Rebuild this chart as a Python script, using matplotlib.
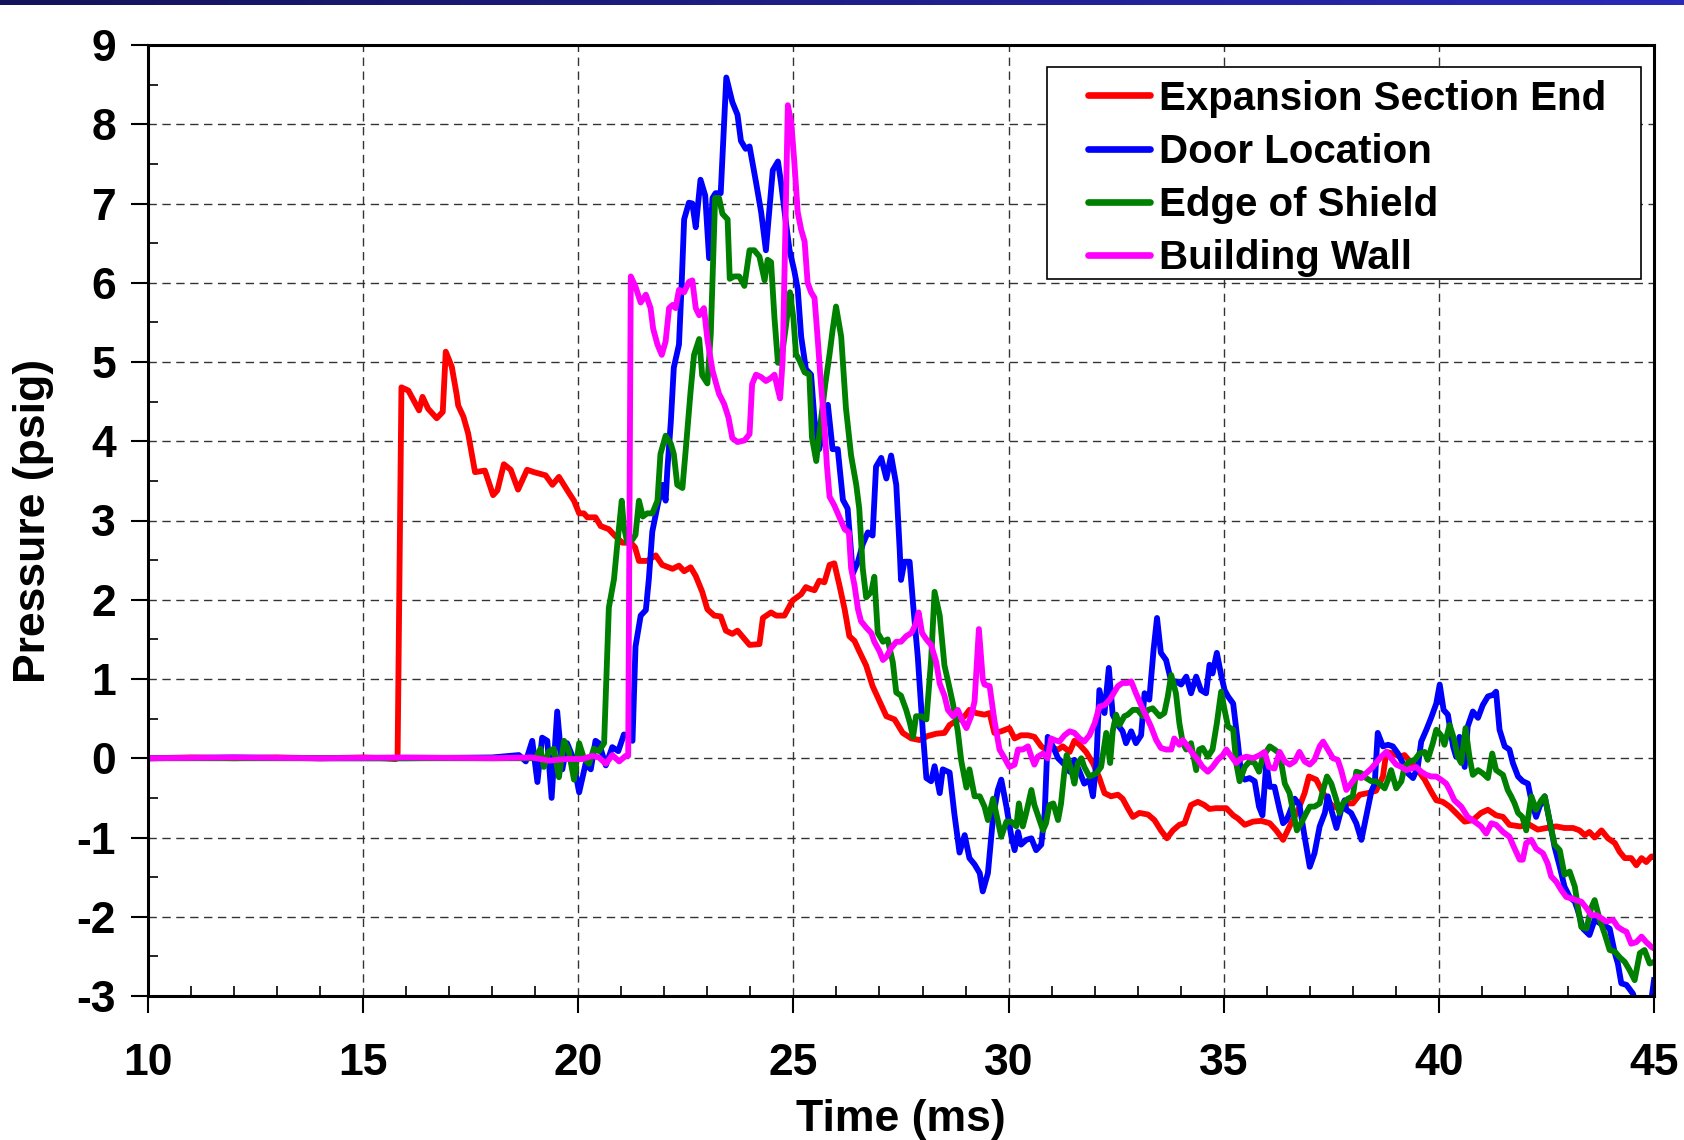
import numpy as np
import matplotlib
matplotlib.use('Agg')
import matplotlib.pyplot as plt
from matplotlib.patches import Rectangle
from matplotlib.ticker import MultipleLocator

# ---- data ----
exp_t = [10.0, 11.0, 12.0, 13.0, 14.0, 15.0, 15.5, 15.75, 15.80, 15.89, 16.05, 16.30, 16.38, 16.51,
         16.71, 16.85, 16.92, 17.06, 17.17, 17.21, 17.33, 17.44, 17.60, 17.83, 18.02, 18.12, 18.27,
         18.43, 18.60, 18.81, 18.97, 19.24, 19.40, 19.55, 19.78, 19.90, 20.02, 20.13, 20.21, 20.40,
         20.52, 20.71, 20.83, 21.02, 21.22, 21.32, 21.41, 21.60, 21.80, 21.95, 22.19, 22.34, 22.46,
         22.61, 22.73, 22.88, 23.00, 23.16, 23.31, 23.43, 23.58, 23.70, 23.98, 24.21, 24.29, 24.48,
         24.60, 24.79, 24.98, 25.18, 25.29, 25.37, 25.49, 25.60, 25.72, 25.84, 25.95, 26.07, 26.19,
         26.30, 26.42, 26.53, 26.69, 26.84, 27.00, 27.16, 27.35, 27.54, 27.74, 27.93, 28.12, 28.32,
         28.51, 28.63, 28.78, 28.98, 29.09, 29.25, 29.44, 29.56, 29.67, 29.83, 30.02, 30.14, 30.29,
         30.45, 30.60, 30.76, 30.87, 30.99, 31.15, 31.26, 31.42, 31.53, 31.65, 31.80, 31.96, 32.11,
         32.23, 32.38, 32.54, 32.65, 32.77, 32.89, 33.04, 33.24, 33.39, 33.54, 33.68, 33.82, 33.97,
         34.09, 34.24, 34.40, 34.55, 34.67, 34.82, 35.06, 35.22, 35.33, 35.49, 35.68, 35.87, 36.07,
         36.22, 36.38, 36.53, 36.73, 36.88, 36.98, 37.15, 37.31, 37.50, 37.65, 37.85, 38.00, 38.16,
         38.35, 38.54, 38.70, 38.78, 38.93, 39.09, 39.20, 39.36, 39.51, 39.67, 39.82, 39.94, 40.09,
         40.25, 40.36, 40.60, 40.79, 40.98, 41.14, 41.33, 41.49, 41.64, 41.88, 42.11, 42.30, 42.50,
         42.73, 42.92, 43.12, 43.27, 43.39, 43.50, 43.62, 43.78, 43.93, 44.09, 44.20, 44.32, 44.47,
         44.59, 44.71, 44.82, 44.94, 45.0]
exp_p = [0.0, 0.01, 0.0, 0.01, 0.0, 0.01, 0.0, -0.01, 0.0, 4.68, 4.64, 4.39, 4.56, 4.41,
         4.29, 4.37, 5.13, 4.94, 4.60, 4.45, 4.31, 4.10, 3.61, 3.63, 3.32, 3.38, 3.71,
         3.64, 3.39, 3.64, 3.61, 3.57, 3.45, 3.55, 3.35, 3.25, 3.09, 3.09, 3.04, 3.04,
         2.93, 2.89, 2.82, 2.72, 2.72, 2.66, 2.49, 2.49, 2.56, 2.44, 2.39, 2.43, 2.36,
         2.41, 2.30, 2.10, 1.88, 1.80, 1.79, 1.61, 1.57, 1.61, 1.43, 1.44, 1.77, 1.84,
         1.80, 1.80, 1.99, 2.07, 2.16, 2.14, 2.12, 2.24, 2.22, 2.44, 2.46, 2.18, 1.88,
         1.54, 1.48, 1.35, 1.17, 0.91, 0.72, 0.53, 0.49, 0.32, 0.25, 0.23, 0.28, 0.31,
         0.32, 0.42, 0.47, 0.53, 0.61, 0.57, 0.55, 0.57, 0.32, 0.34, 0.38, 0.25, 0.29,
         0.29, 0.27, 0.15, 0.11, 0.13, 0.11, 0.15, 0.08, 0.22, 0.17, 0.08, -0.06, -0.25,
         -0.44, -0.48, -0.46, -0.51, -0.63, -0.74, -0.69, -0.71, -0.78, -0.91, -1.01, -0.91, -0.84,
         -0.82, -0.59, -0.55, -0.59, -0.64, -0.63, -0.63, -0.72, -0.76, -0.84, -0.80, -0.79, -0.82,
         -0.91, -1.03, -0.86, -0.65, -0.44, -0.23, -0.27, -0.44, -0.59, -0.63, -0.57, -0.57, -0.46,
         -0.44, -0.41, -0.23, 0.08, 0.06, 0.02, 0.04, -0.06, -0.15, -0.27, -0.42, -0.53, -0.55,
         -0.61, -0.67, -0.80, -0.78, -0.69, -0.65, -0.72, -0.74, -0.84, -0.86, -0.84, -0.90, -0.88,
         -0.86, -0.88, -0.88, -0.91, -0.97, -0.93, -1.00, -0.91, -1.01, -1.07, -1.18, -1.26, -1.26,
         -1.35, -1.26, -1.31, -1.24, -1.24]

door_t = [10.0, 12.0, 14.0, 16.0, 18.0, 18.62, 18.78, 18.93, 19.05, 19.16, 19.28, 19.38, 19.51,
          19.63, 19.74, 19.86, 20.02, 20.17, 20.29, 20.40, 20.48, 20.64, 20.79, 20.93, 21.06, 21.14,
          21.26, 21.33, 21.45, 21.57, 21.64, 21.72, 21.84, 21.95, 22.03, 22.07, 22.15, 22.22, 22.34,
          22.40, 22.46, 22.57, 22.65, 22.73, 22.84, 22.95, 23.04, 23.12, 23.19, 23.31, 23.44, 23.58,
          23.70, 23.78, 23.89, 23.98, 24.13, 24.25, 24.36, 24.52, 24.64, 24.71, 24.83, 24.91, 25.02,
          25.10, 25.18, 25.29, 25.41, 25.49, 25.60, 25.68, 25.80, 25.91, 26.03, 26.15, 26.26, 26.38,
          26.50, 26.61, 26.73, 26.84, 26.92, 27.04, 27.16, 27.27, 27.39, 27.47, 27.50, 27.58, 27.70,
          27.78, 27.89, 28.01, 28.09, 28.20, 28.28, 28.40, 28.47, 28.63, 28.74, 28.86, 28.98, 29.09,
          29.21, 29.33, 29.40, 29.52, 29.64, 29.75, 29.83, 29.95, 30.06, 30.14, 30.22, 30.29, 30.41,
          30.53, 30.64, 30.76, 30.84, 30.91, 31.03, 31.15, 31.30, 31.42, 31.53, 31.65, 31.76, 31.88,
          31.96, 32.04, 32.11, 32.23, 32.33, 32.42, 32.54, 32.65, 32.73, 32.85, 32.96, 33.08, 33.16,
          33.27, 33.37, 33.45, 33.54, 33.66, 33.78, 33.89, 34.01, 34.13, 34.24, 34.36, 34.47, 34.59,
          34.67, 34.74, 34.84, 34.94, 35.02, 35.10, 35.22, 35.33, 35.41, 35.49, 35.60, 35.72, 35.82,
          35.90, 35.99, 36.07, 36.18, 36.30, 36.38, 36.46, 36.53, 36.65, 36.76, 36.88, 37.00, 37.11,
          37.23, 37.35, 37.42, 37.50, 37.62, 37.73, 37.81, 37.85, 37.96, 38.08, 38.20, 38.31, 38.43,
          38.51, 38.58, 38.70, 38.82, 38.93, 39.05, 39.16, 39.28, 39.40, 39.51, 39.59, 39.71, 39.82,
          39.94, 40.02, 40.11, 40.21, 40.33, 40.40, 40.48, 40.60, 40.67, 40.79, 40.91, 41.02, 41.14,
          41.26, 41.33, 41.41, 41.53, 41.64, 41.72, 41.84, 41.95, 42.07, 42.15, 42.26, 42.34, 42.46,
          42.57, 42.69, 42.81, 42.92, 43.04, 43.16, 43.23, 43.35, 43.50, 43.62, 43.74, 43.85, 43.97,
          44.09, 44.16, 44.24, 44.36, 44.51, 44.59, 44.75, 44.90, 45.0]
door_p = [0.0, 0.01, 0.0, 0.0, 0.01, 0.04, -0.04, 0.22, -0.30, 0.26, 0.22, -0.50, 0.59,
          -0.14, 0.19, 0.03, -0.43, -0.07, -0.14, 0.22, 0.19, -0.09, 0.14, 0.09, 0.30, 0.29,
          0.22, 1.41, 1.80, 1.87, 2.26, 2.86, 3.18, 3.45, 3.25, 3.64, 4.24, 4.93, 5.22,
          5.95, 6.80, 7.01, 7.00, 6.70, 7.30, 7.10, 6.31, 7.07, 7.13, 7.13, 8.59, 8.28,
          8.12, 7.79, 7.69, 7.72, 7.27, 6.89, 6.41, 7.42, 7.53, 7.27, 6.74, 6.41, 6.15,
          5.92, 5.32, 4.91, 4.84, 4.27, 3.90, 4.12, 4.46, 3.90, 3.90, 3.26, 3.15, 2.33,
          2.48, 2.70, 2.85, 2.81, 3.68, 3.79, 3.53, 3.82, 3.45, 2.63, 2.25, 2.48, 2.48,
          1.95, 1.28, 0.31, -0.25, -0.29, -0.10, -0.44, -0.14, -0.18, -0.70, -1.19, -0.97, -1.26,
          -1.34, -1.45, -1.68, -1.45, -0.74, -0.40, -0.27, -0.61, -0.97, -1.16, -0.93, -1.09, -1.03,
          -1.01, -1.16, -1.09, -0.69, 0.27, 0.15, 0.00, -0.08, -0.17, -0.02, -0.17, -0.32, -0.27,
          -0.48, -0.06, 0.86, 0.57, 1.14, 0.55, 0.42, 0.34, 0.19, 0.34, 0.19, 0.29, 0.82,
          0.74, 1.37, 1.77, 1.33, 1.24, 0.97, 0.97, 0.93, 1.03, 0.82, 1.03, 0.86, 0.82,
          1.18, 1.07, 1.33, 1.05, 0.86, 0.78, 0.69, 0.19, -0.23, -0.27, -0.25, -0.29, -0.61,
          -0.72, -0.06, -0.36, -0.36, -0.65, -0.82, -0.78, -0.69, -0.51, -0.59, -0.99, -1.37, -1.20,
          -0.86, -0.69, -0.48, -0.65, -0.88, -0.65, -0.53, -0.65, -0.69, -0.82, -1.03, -0.74, -0.42,
          -0.32, 0.32, 0.15, 0.17, 0.15, 0.06, -0.06, -0.19, -0.25, -0.11, 0.21, 0.36, 0.51,
          0.69, 0.93, 0.61, 0.55, 0.15, 0.02, 0.27, -0.11, 0.40, 0.59, 0.51, 0.67, 0.78,
          0.80, 0.84, 0.36, 0.15, 0.11, -0.06, -0.23, -0.29, -0.32, -0.53, -0.74, -0.61, -0.48,
          -0.78, -1.12, -1.37, -1.62, -1.75, -1.81, -1.92, -2.15, -2.23, -2.04, -2.08, -2.11, -2.15,
          -2.46, -2.59, -2.84, -2.86, -2.97, -3.10, -3.20, -3.20, -2.80]

shield_t = [10.0, 14.0, 18.0, 18.78, 19.01, 19.12, 19.20, 19.32, 19.43, 19.55, 19.67, 19.78, 19.90,
            20.02, 20.13, 20.25, 20.36, 20.48, 20.60, 20.67, 20.71, 20.83, 20.91, 21.01, 21.06, 21.14,
            21.26, 21.33, 21.41, 21.50, 21.60, 21.72, 21.84, 21.91, 22.03, 22.15, 22.22, 22.30, 22.42,
            22.50, 22.61, 22.69, 22.81, 22.88, 23.00, 23.08, 23.18, 23.27, 23.35, 23.47, 23.52, 23.62,
            23.74, 23.86, 23.98, 24.09, 24.21, 24.33, 24.40, 24.48, 24.56, 24.64, 24.71, 24.83, 24.92,
            25.00, 25.06, 25.14, 25.26, 25.37, 25.43, 25.53, 25.64, 25.74, 25.84, 25.91, 25.99, 26.11,
            26.22, 26.34, 26.46, 26.53, 26.61, 26.69, 26.81, 26.88, 26.96, 27.08, 27.19, 27.31, 27.39,
            27.50, 27.62, 27.70, 27.78, 27.85, 27.97, 28.09, 28.20, 28.28, 28.40, 28.51, 28.59, 28.71,
            28.82, 28.90, 29.02, 29.09, 29.21, 29.33, 29.44, 29.52, 29.64, 29.71, 29.83, 29.95, 30.06,
            30.18, 30.24, 30.33, 30.41, 30.53, 30.60, 30.72, 30.80, 30.87, 30.95, 31.04, 31.15, 31.22,
            31.30, 31.35, 31.46, 31.53, 31.61, 31.69, 31.76, 31.88, 32.04, 32.15, 32.27, 32.36, 32.42,
            32.50, 32.58, 32.69, 32.77, 32.89, 33.00, 33.12, 33.24, 33.35, 33.51, 33.62, 33.70, 33.78,
            33.89, 33.97, 34.05, 34.13, 34.24, 34.36, 34.43, 34.51, 34.63, 34.74, 34.84, 34.94, 35.02,
            35.10, 35.22, 35.29, 35.37, 35.49, 35.60, 35.72, 35.82, 35.91, 36.07, 36.18, 36.30, 36.42,
            36.53, 36.63, 36.70, 36.80, 36.92, 37.00, 37.11, 37.23, 37.31, 37.40, 37.50, 37.62, 37.69,
            37.77, 37.89, 38.00, 38.08, 38.20, 38.31, 38.43, 38.54, 38.62, 38.74, 38.82, 38.89, 39.01,
            39.13, 39.20, 39.32, 39.44, 39.55, 39.67, 39.74, 39.86, 39.94, 40.05, 40.13, 40.25, 40.36,
            40.44, 40.52, 40.62, 40.71, 40.79, 40.91, 41.02, 41.14, 41.24, 41.33, 41.49, 41.60, 41.68,
            41.76, 41.84, 41.94, 42.03, 42.15, 42.26, 42.38, 42.46, 42.57, 42.69, 42.81, 42.92, 43.04,
            43.16, 43.23, 43.31, 43.43, 43.54, 43.62, 43.74, 43.85, 43.97, 44.09, 44.20, 44.32, 44.43,
            44.55, 44.67, 44.78, 44.90, 45.0]
shield_p = [0.0, 0.0, 0.0, 0.0, 0.0, 0.12, -0.11, 0.09, 0.12, -0.24, 0.22, 0.09, -0.27,
            0.19, 0.0, -0.07, 0.12, 0.09, 0.19, 1.28, 1.90, 2.26, 2.72, 3.25, 2.92, 2.72,
            2.76, 2.82, 3.25, 3.05, 3.09, 3.09, 3.25, 3.84, 4.07, 3.97, 3.84, 3.45, 3.41,
            3.91, 4.63, 5.09, 5.29, 4.83, 4.73, 5.36, 7.07, 7.07, 6.87, 6.80, 6.05, 6.08,
            6.08, 5.96, 6.41, 6.41, 6.33, 6.03, 6.29, 6.26, 5.55, 4.99, 4.99, 5.47, 5.88,
            5.55, 5.10, 5.02, 4.87, 4.84, 4.05, 3.75, 4.27, 4.72, 5.10, 5.40, 5.70, 5.32,
            4.42, 3.82, 3.45, 3.15, 2.40, 2.03, 2.10, 2.29, 1.58, 1.47, 1.50, 1.21, 0.83,
            0.79, 0.61, 0.46, 0.27, 0.53, 0.53, 0.49, 1.24, 2.10, 1.80, 1.17, 0.98, 0.68,
            0.34, -0.03, -0.37, -0.14, -0.48, -0.48, -0.61, -0.78, -0.51, -0.69, -0.99, -0.80, -0.80,
            -0.86, -0.57, -0.86, -0.69, -0.40, -0.59, -0.78, -0.91, -0.82, -0.59, -0.57, -0.78, -0.57,
            -0.15, 0.04, -0.15, -0.32, -0.06, 0.00, -0.11, -0.23, -0.19, -0.11, 0.32, -0.06, 0.34,
            0.55, 0.42, 0.53, 0.55, 0.61, 0.61, 0.53, 0.61, 0.63, 0.53, 0.57, 0.78, 1.05,
            0.82, 0.44, 0.19, 0.11, 0.19, -0.15, 0.11, 0.13, 0.02, 0.11, 0.44, 0.84, 0.61,
            0.40, 0.36, -0.06, -0.29, -0.11, -0.04, -0.06, -0.17, 0.02, 0.15, 0.11, 0.06, -0.32,
            -0.44, -0.72, -0.91, -0.82, -0.69, -0.61, -0.61, -0.57, -0.40, -0.23, -0.32, -0.53, -0.69,
            -0.57, -0.51, -0.48, -0.17, -0.19, -0.25, -0.29, -0.29, -0.32, -0.38, -0.27, -0.15, -0.38,
            -0.29, -0.11, -0.04, -0.02, 0.06, 0.08, -0.02, 0.19, 0.36, 0.29, 0.17, 0.42, 0.23,
            0.02, -0.06, 0.38, 0.02, -0.21, -0.15, -0.19, -0.25, 0.06, -0.15, -0.21, -0.40, -0.48,
            -0.57, -0.69, -0.74, -0.91, -0.48, -0.65, -0.53, -0.48, -0.78, -1.09, -1.16, -1.47, -1.43,
            -1.62, -1.87, -2.13, -2.15, -1.89, -1.79, -2.04, -2.21, -2.42, -2.44, -2.51, -2.57, -2.67,
            -2.80, -2.46, -2.42, -2.59, -2.57]

wall_t = [10.0, 12.0, 14.0, 16.0, 18.0, 18.93, 19.32, 19.71, 20.09, 20.33, 20.48, 20.64, 20.79,
          20.95, 21.10, 21.16, 21.22, 21.33, 21.45, 21.57, 21.68, 21.74, 21.84, 21.94, 22.03, 22.11,
          22.19, 22.26, 22.34, 22.46, 22.57, 22.65, 22.73, 22.81, 22.92, 23.00, 23.12, 23.27, 23.39,
          23.49, 23.58, 23.70, 23.86, 23.98, 24.04, 24.13, 24.25, 24.36, 24.48, 24.56, 24.64, 24.69,
          24.75, 24.81, 24.87, 24.95, 25.02, 25.10, 25.18, 25.26, 25.33, 25.41, 25.49, 25.57, 25.64,
          25.72, 25.78, 25.84, 25.95, 26.07, 26.19, 26.29, 26.34, 26.42, 26.50, 26.57, 26.69, 26.81,
          26.88, 27.00, 27.08, 27.16, 27.27, 27.39, 27.50, 27.62, 27.74, 27.84, 27.91, 27.99, 28.09,
          28.20, 28.32, 28.40, 28.51, 28.59, 28.71, 28.82, 28.94, 29.02, 29.13, 29.21, 29.31, 29.40,
          29.44, 29.56, 29.67, 29.79, 29.91, 30.02, 30.14, 30.22, 30.33, 30.45, 30.53, 30.60, 30.68,
          30.80, 30.91, 30.99, 31.07, 31.18, 31.30, 31.42, 31.53, 31.65, 31.76, 31.88, 32.00, 32.11,
          32.23, 32.35, 32.42, 32.54, 32.65, 32.77, 32.85, 32.96, 33.08, 33.20, 33.31, 33.43, 33.54,
          33.66, 33.78, 33.85, 33.97, 34.05, 34.16, 34.28, 34.40, 34.51, 34.63, 34.74, 34.86, 34.98,
          35.06, 35.18, 35.29, 35.41, 35.53, 35.68, 35.84, 35.95, 36.05, 36.18, 36.30, 36.42, 36.53,
          36.65, 36.76, 36.88, 37.00, 37.11, 37.23, 37.31, 37.42, 37.54, 37.65, 37.73, 37.85, 37.96,
          38.08, 38.20, 38.31, 38.43, 38.54, 38.66, 38.78, 38.89, 39.01, 39.13, 39.24, 39.36, 39.47,
          39.59, 39.71, 39.82, 39.94, 40.05, 40.17, 40.25, 40.36, 40.52, 40.67, 40.83, 40.98, 41.10,
          41.22, 41.33, 41.49, 41.64, 41.76, 41.88, 41.95, 42.03, 42.15, 42.26, 42.42, 42.53, 42.61,
          42.73, 42.84, 42.96, 43.08, 43.19, 43.31, 43.43, 43.54, 43.66, 43.78, 43.89, 44.05, 44.16,
          44.28, 44.36, 44.47, 44.59, 44.71, 44.82, 44.94, 45.0]
wall_p = [0.0, 0.01, 0.0, 0.01, 0.0, 0.01, -0.03, -0.01, -0.01, 0.03, 0.01, -0.07, 0.04,
          -0.04, 0.03, 0.03, 6.08, 5.95, 5.75, 5.85, 5.68, 5.42, 5.22, 5.09, 5.26, 5.68,
          5.72, 5.68, 5.91, 5.88, 6.01, 6.03, 5.68, 5.59, 5.68, 5.29, 4.89, 4.60, 4.47,
          4.30, 4.04, 3.99, 4.01, 4.09, 4.72, 4.84, 4.81, 4.76, 4.80, 4.84, 4.65, 4.54,
          5.02, 6.59, 8.24, 8.02, 7.53, 6.89, 6.67, 6.52, 6.00, 5.88, 5.81, 5.25, 4.72,
          4.20, 3.68, 3.30, 3.19, 3.04, 2.89, 2.85, 2.40, 2.18, 1.88, 1.73, 1.65, 1.58,
          1.47, 1.35, 1.24, 1.28, 1.39, 1.47, 1.47, 1.54, 1.58, 1.69, 1.84, 1.58, 1.50,
          1.43, 1.21, 0.94, 0.79, 0.61, 0.53, 0.61, 0.46, 0.38, 0.53, 0.72, 1.63, 1.00,
          0.93, 0.91, 0.48, 0.11, 0.00, -0.11, -0.08, 0.11, 0.11, 0.15, 0.02, -0.08, 0.02,
          0.06, 0.00, 0.25, 0.23, 0.21, 0.29, 0.34, 0.32, 0.25, 0.21, 0.29, 0.44, 0.65,
          0.67, 0.74, 0.80, 0.91, 0.95, 0.95, 0.97, 0.82, 0.67, 0.53, 0.40, 0.23, 0.13,
          0.11, 0.11, 0.25, 0.17, 0.23, 0.15, 0.06, -0.02, -0.11, -0.17, -0.11, -0.02, 0.04,
          0.11, 0.02, -0.06, 0.00, 0.02, 0.00, 0.04, 0.08, -0.11, -0.13, 0.08, -0.04, -0.08,
          -0.04, 0.08, -0.04, -0.08, -0.02, 0.15, 0.21, 0.11, 0.00, -0.02, -0.15, -0.40, -0.32,
          -0.23, -0.25, -0.19, -0.13, -0.06, 0.02, 0.08, 0.00, -0.08, -0.11, -0.15, -0.13, -0.11,
          -0.17, -0.21, -0.23, -0.23, -0.27, -0.32, -0.40, -0.53, -0.61, -0.74, -0.80, -0.86, -0.95,
          -0.82, -0.84, -0.93, -0.99, -1.14, -1.28, -1.28, -1.07, -1.03, -1.14, -1.20, -1.33, -1.49,
          -1.56, -1.66, -1.75, -1.77, -1.79, -1.81, -1.89, -1.98, -1.98, -2.02, -2.06, -2.04, -2.13,
          -2.17, -2.19, -2.34, -2.32, -2.25, -2.32, -2.38, -2.40]

series_names = ['Expansion Section End', 'Door Location', 'Edge of Shield', 'Building Wall']
series_colors = ['#ff0000', '#0000ff', '#008000', '#ff00ff']
x_ticks = [10, 15, 20, 25, 30, 35, 40, 45]
y_ticks = list(range(-3, 10))


def main():
  plt.rcParams['font.family'] = ['Liberation Sans', 'DejaVu Sans']
  plt.rcParams['font.weight'] = 'bold'
  plt.rcParams['axes.unicode_minus'] = False

  W, H = 1684, 1140
  fig = plt.figure(figsize=(W / 100, H / 100), dpi=100)
  fig.patch.set_facecolor('white')

  # thin slide banner along the top edge
  band = fig.add_axes([0, 1 - 5 / H, 1, 5 / H])
  grad = np.linspace(0, 1, 256).reshape(1, -1)
  band.imshow(grad, aspect='auto', cmap=matplotlib.colors.LinearSegmentedColormap.from_list(
    'band', ['#14145a', '#2a2ab8']))
  band.set_axis_off()

  left, right, top, bottom = 148, 1654, 45, 996
  ax = fig.add_axes([left / W, 1 - bottom / H, (right - left) / W, (bottom - top) / H])

  data = [(exp_t, exp_p), (door_t, door_p), (shield_t, shield_p), (wall_t, wall_p)]
  for (t, p), name, col in zip(data, series_names, series_colors):
    ax.plot(t, p, color=col, lw=4.2, label=name, solid_joinstyle='round')

  ax.set_xlim(10, 45)
  ax.set_ylim(-3, 9)
  ax.set_xticks(x_ticks)
  ax.set_yticks(y_ticks)
  ax.xaxis.set_minor_locator(MultipleLocator(1))
  ax.yaxis.set_minor_locator(MultipleLocator(0.5))

  ax.grid(True, which='major', color='#333333', linestyle=(0, (6, 4)), linewidth=1.0)
  ax.tick_params(which='major', direction='out', length=12, width=1.5, labelsize=32)
  ax.tick_params(which='minor', direction='in', length=7, width=1.2)
  ax.tick_params(axis='x', which='major', pad=22)
  ax.tick_params(axis='y', which='major', pad=11)
  for lbl in ax.get_xticklabels() + ax.get_yticklabels():
    lbl.set_fontweight('bold')

  for s in ax.spines.values():
    s.set_linewidth(2.2)
    s.set_color('black')

  ax.set_xlabel('Time (ms)', fontsize=32, fontweight='bold', va='center')
  ax.set_ylabel('Pressure (psig)', fontsize=32, fontweight='bold', va='center')
  ax.xaxis.set_label_coords(0.5, (bottom - 1120) / (bottom - top))
  ax.yaxis.set_label_coords((34 - left) / (right - left), 0.5)

  # legend box drawn as its own rectangle, entries placed inside it
  box = Rectangle((1047 / W, 1 - 279 / H), (1641 - 1047) / W, (279 - 67) / H,
                  transform=fig.transFigure, facecolor='white', edgecolor='black',
                  linewidth=1.2, zorder=4)
  ax.add_artist(box)
  box.set_clip_on(False)
  leg = ax.legend(loc='upper left', bbox_to_anchor=(1088 / W, 1 - 79.5 / H),
                  bbox_transform=fig.transFigure, fontsize=29, frameon=False,
                  borderpad=0, handlelength=1.55, handletextpad=0.22, labelspacing=0.38,
                  borderaxespad=0)
  leg.set_zorder(5)
  for txt in leg.get_texts():
    txt.set_fontweight('bold')
  for line in leg.get_lines():
    line.set_linewidth(4.8)
    line.set_solid_capstyle('round')

  fig.savefig('out.png', dpi=100)


if __name__ == '__main__':
  main()
